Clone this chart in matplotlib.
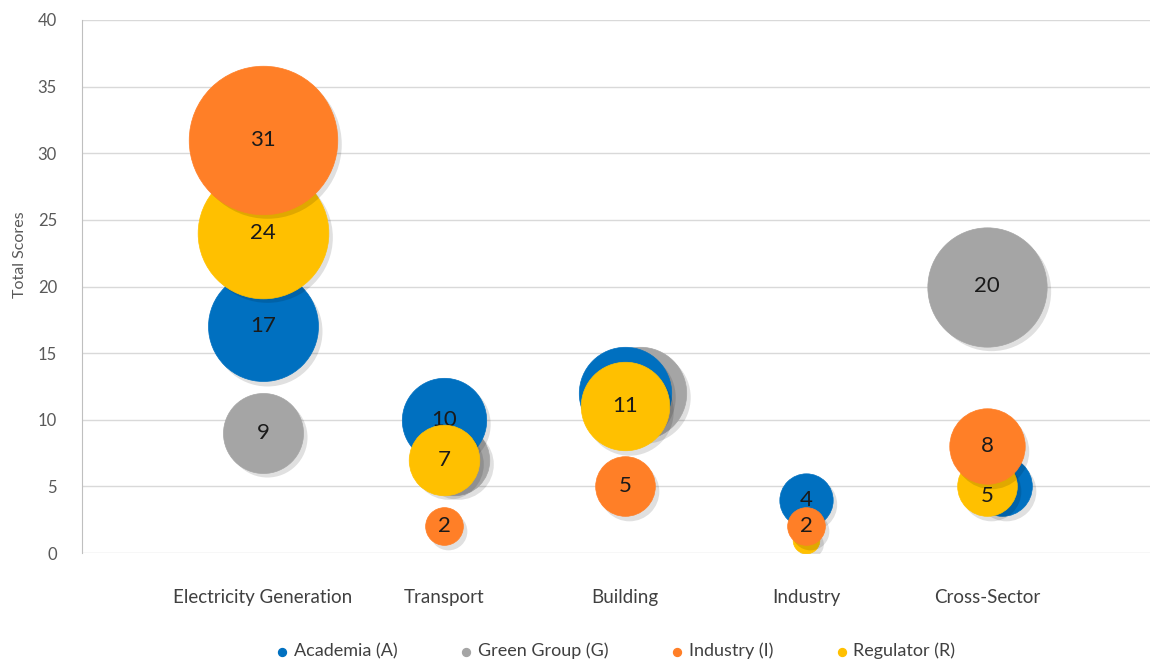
import matplotlib.pyplot as plt
from matplotlib.transforms import offset_copy

plt.rcParams['font.family'] = ['Lato', 'DejaVu Sans']

categories = ['Electricity Generation', 'Transport', 'Building', 'Industry', 'Cross-Sector']
academia = [17, 10, 12, 4, 5]
green_group = [9, 7, 12, 0, 20]
industry = [31, 2, 5, 2, 8]
regulator = [24, 7, 11, 1, 5]

# drawing order bottom -> top
series = [
    ('Green Group (G)', green_group, '#A5A5A5'),
    ('Academia (A)', academia, '#0070C0'),
    ('Regulator (R)', regulator, '#FFC000'),
    ('Industry (I)', industry, '#FF7F27'),
]
legend_order = ['Academia (A)', 'Green Group (G)', 'Industry (I)', 'Regulator (R)']

# small sideways shifts (in pixels) where equal bubbles would hide each other
nudge_px = {('Green Group (G)', 1): 10, ('Green Group (G)', 2): 15, ('Academia (A)', 4): 15}
# labels that sit under another bubble in the original, and small label shifts
hidden_labels = {('Green Group (G)', 1), ('Green Group (G)', 2), ('Academia (A)', 2),
                 ('Academia (A)', 4), ('Regulator (R)', 3)}
label_shift_pt = {('Regulator (R)', 4): -7}

W, H = 1159, 661
fig = plt.figure(figsize=(W / 100, H / 100), dpi=100)
left, right, top, bottom = 82, 1150, 20, 553
ax = fig.add_axes([left / W, 1 - bottom / H, (right - left) / W, (bottom - top) / H])

xmax = 5.9
ax.set_xlim(0, xmax)
ax.set_ylim(0, 40)
px_per_x = (right - left) / xmax

size_scale = 369  # points^2 per score unit (bubble area ~ value)
handles = {}
for k, (name, vals, col) in enumerate(series):
    z = 3 + k * 3
    for i, v in enumerate(vals):
        if v <= 0:
            continue
        x = i + 1 + nudge_px.get((name, i), 0) / px_per_x
        shadow = offset_copy(ax.transData, fig=fig, x=3, y=-3, units='points')
        ax.scatter([x], [v], s=v * size_scale, color='black', alpha=0.12,
                   transform=shadow, zorder=z, linewidths=0)
        ax.scatter([x], [v], s=v * size_scale, color=col, zorder=z + 1,
                   edgecolors=col, linewidths=0.5)
        if (name, i) not in hidden_labels:
            tr = offset_copy(ax.transData, fig=fig, x=0,
                             y=label_shift_pt.get((name, i), 0), units='points')
            ax.text(x, v, str(v), ha='center', va='center', fontsize=16,
                    color='#1a1a1a', zorder=z + 2, transform=tr)
    handles[name] = ax.scatter([], [], s=40, color=col)

ax.set_yticks(range(0, 41, 5))
ax.set_xticks(range(1, 6))
ax.set_xticklabels(categories)
ax.tick_params(axis='x', length=0, pad=26, labelsize=13.5, labelcolor='#404040')
ax.tick_params(axis='y', length=0, pad=18, labelsize=12, labelcolor='#595959')
ax.grid(axis='y', color='#d9d9d9', linewidth=1)
ax.set_axisbelow(True)
for s in ['top', 'right', 'bottom']:
    ax.spines[s].set_visible(False)
ax.spines['left'].set_color('#bfbfbf')

fig.text(20 / W, 1 - 255 / H, 'Total Scores', rotation=90, ha='center', va='center',
         fontsize=11.5, color='#595959')

fig.legend([handles[n] for n in legend_order], legend_order, loc='center',
           bbox_to_anchor=(616 / W, 1 - 651 / H), ncol=4, frameon=False,
           fontsize=13, handlelength=0.6, handletextpad=0.35, columnspacing=3.5,
           labelcolor='#404040', markerscale=0.9)

fig.savefig('out.png', dpi=100)
